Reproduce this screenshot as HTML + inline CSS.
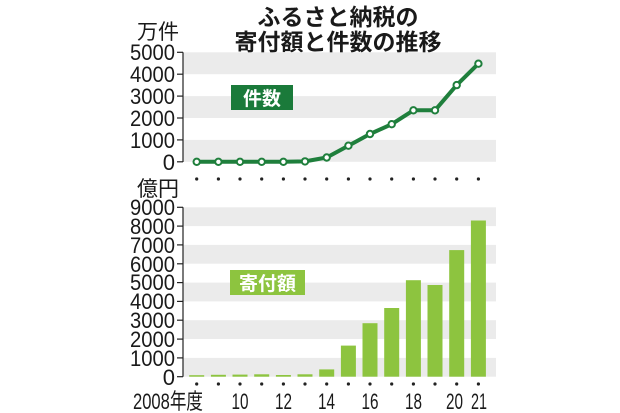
<!DOCTYPE html>
<html><head><meta charset="utf-8"><style>
html,body{margin:0;padding:0;background:#fff;}
svg{display:block;}
text{font-family:"Liberation Sans","Noto Sans CJK JP",sans-serif;fill:#1a1a1a;}
</style></head><body>
<svg width="620" height="413" viewBox="0 0 620 413" xmlns="http://www.w3.org/2000/svg">
<rect width="620" height="413" fill="#fff"/>
<text x="338" y="25" font-size="23" text-anchor="middle" font-weight="bold">ふるさと納税の</text>
<text x="338" y="50" font-size="23" text-anchor="middle" font-weight="bold">寄付額と件数の推移</text>
<text x="137" y="39" font-size="21">万件</text>
<rect x="183" y="52.3" width="313" height="21.9" fill="#ebebeb"/>
<rect x="183" y="96.1" width="313" height="21.9" fill="#ebebeb"/>
<rect x="183" y="139.9" width="313" height="21.9" fill="#ebebeb"/>
<g stroke="#222" stroke-width="1.2">
<line x1="183" y1="52.3" x2="183" y2="162"/>
<line x1="177" y1="52.3" x2="183" y2="52.3"/>
<line x1="177" y1="74.2" x2="183" y2="74.2"/>
<line x1="177" y1="96.1" x2="183" y2="96.1"/>
<line x1="177" y1="118" x2="183" y2="118"/>
<line x1="177" y1="139.9" x2="183" y2="139.9"/>
<line x1="177" y1="161.8" x2="183" y2="161.8"/>
</g>
<g font-size="22" text-anchor="end">
<text x="175" y="60" textLength="45" lengthAdjust="spacingAndGlyphs">5000</text>
<text x="175" y="82" textLength="45" lengthAdjust="spacingAndGlyphs">4000</text>
<text x="175" y="104" textLength="45" lengthAdjust="spacingAndGlyphs">3000</text>
<text x="175" y="126" textLength="45" lengthAdjust="spacingAndGlyphs">2000</text>
<text x="175" y="148" textLength="45" lengthAdjust="spacingAndGlyphs">1000</text>
<text x="175" y="170">0</text>
</g>
<rect x="231" y="85" width="62" height="25" fill="#1a7a3a"/>
<text x="262" y="105" font-size="19" text-anchor="middle" font-weight="bold" style="fill:#fff">件数</text>
<polyline fill="none" stroke="#1f7f3c" stroke-width="4" stroke-linejoin="round"
points="196.7,161.8 218.4,161.8 240,161.8 261.7,161.8 283.4,161.8 305,161.4 326.7,157.5 348.4,145.7 370,134 391.7,124.2 413.4,110.3 435,110.3 456.7,85.1 478.4,63.7"/>
<g fill="#fff" stroke="#1f7f3c" stroke-width="2">
<circle cx="196.7" cy="161.8" r="3.2"/><circle cx="218.4" cy="161.8" r="3.2"/><circle cx="240" cy="161.8" r="3.2"/>
<circle cx="261.7" cy="161.8" r="3.2"/><circle cx="283.4" cy="161.8" r="3.2"/><circle cx="305" cy="161.4" r="3.2"/>
<circle cx="326.7" cy="157.5" r="3.2"/><circle cx="348.4" cy="145.7" r="3.2"/><circle cx="370" cy="134" r="3.2"/>
<circle cx="391.7" cy="124.2" r="3.2"/><circle cx="413.4" cy="110.3" r="3.2"/><circle cx="435" cy="110.3" r="3.2"/>
<circle cx="456.7" cy="85.1" r="3.2"/><circle cx="478.4" cy="63.7" r="3.2"/>
</g>
<g fill="#222">
<circle cx="196.7" cy="179" r="1.6"/><circle cx="218.4" cy="179" r="1.6"/><circle cx="240" cy="179" r="1.6"/>
<circle cx="261.7" cy="179" r="1.6"/><circle cx="283.4" cy="179" r="1.6"/><circle cx="305" cy="179" r="1.6"/>
<circle cx="326.7" cy="179" r="1.6"/><circle cx="348.4" cy="179" r="1.6"/><circle cx="370" cy="179" r="1.6"/>
<circle cx="391.7" cy="179" r="1.6"/><circle cx="413.4" cy="179" r="1.6"/><circle cx="435" cy="179" r="1.6"/>
<circle cx="456.7" cy="179" r="1.6"/><circle cx="478.4" cy="179" r="1.6"/>
<circle cx="196.7" cy="384" r="1.6"/><circle cx="218.4" cy="384" r="1.6"/><circle cx="240" cy="384" r="1.6"/>
<circle cx="261.7" cy="384" r="1.6"/><circle cx="283.4" cy="384" r="1.6"/><circle cx="305" cy="384" r="1.6"/>
<circle cx="326.7" cy="384" r="1.6"/><circle cx="348.4" cy="384" r="1.6"/><circle cx="370" cy="384" r="1.6"/>
<circle cx="391.7" cy="384" r="1.6"/><circle cx="413.4" cy="384" r="1.6"/><circle cx="435" cy="384" r="1.6"/>
<circle cx="456.7" cy="384" r="1.6"/><circle cx="478.4" cy="384" r="1.6"/>
</g>
<text x="137" y="196" font-size="21">億円</text>
<rect x="183" y="207.3" width="313" height="18.8" fill="#ebebeb"/>
<rect x="183" y="244.9" width="313" height="18.8" fill="#ebebeb"/>
<rect x="183" y="282.6" width="313" height="18.8" fill="#ebebeb"/>
<rect x="183" y="320.2" width="313" height="18.8" fill="#ebebeb"/>
<rect x="183" y="357.9" width="313" height="18.8" fill="#ebebeb"/>
<g stroke="#222" stroke-width="1.2">
<line x1="183" y1="207.3" x2="183" y2="376.7"/>
<line x1="177" y1="207.3" x2="183" y2="207.3"/><line x1="177" y1="226.1" x2="183" y2="226.1"/>
<line x1="177" y1="244.9" x2="183" y2="244.9"/><line x1="177" y1="263.8" x2="183" y2="263.8"/>
<line x1="177" y1="282.6" x2="183" y2="282.6"/><line x1="177" y1="301.4" x2="183" y2="301.4"/>
<line x1="177" y1="320.2" x2="183" y2="320.2"/><line x1="177" y1="339.1" x2="183" y2="339.1"/>
<line x1="177" y1="357.9" x2="183" y2="357.9"/><line x1="177" y1="376.7" x2="183" y2="376.7"/>
</g>
<g font-size="22" text-anchor="end">
<text x="175" y="215" textLength="45" lengthAdjust="spacingAndGlyphs">9000</text>
<text x="175" y="234" textLength="45" lengthAdjust="spacingAndGlyphs">8000</text>
<text x="175" y="253" textLength="45" lengthAdjust="spacingAndGlyphs">7000</text>
<text x="175" y="272" textLength="45" lengthAdjust="spacingAndGlyphs">6000</text>
<text x="175" y="290" textLength="45" lengthAdjust="spacingAndGlyphs">5000</text>
<text x="175" y="309" textLength="45" lengthAdjust="spacingAndGlyphs">4000</text>
<text x="175" y="328" textLength="45" lengthAdjust="spacingAndGlyphs">3000</text>
<text x="175" y="347" textLength="45" lengthAdjust="spacingAndGlyphs">2000</text>
<text x="175" y="366" textLength="45" lengthAdjust="spacingAndGlyphs">1000</text>
<text x="175" y="385">0</text>
</g>
<rect x="230" y="270" width="75" height="25" fill="#8dc43f"/>
<text x="267.5" y="290" font-size="19" text-anchor="middle" font-weight="bold" style="fill:#fff">寄付額</text>
<g fill="#8dc43f">
<rect x="189.2" y="375.2" width="15" height="1.5"/>
<rect x="210.9" y="374.8" width="15" height="1.9"/>
<rect x="232.5" y="374.6" width="15" height="2.1"/>
<rect x="254.2" y="374.3" width="15" height="2.4"/>
<rect x="275.9" y="375" width="15" height="1.7"/>
<rect x="297.5" y="374.3" width="15" height="2.4"/>
<rect x="319.2" y="369.4" width="15" height="7.3"/>
<rect x="340.9" y="345.6" width="15" height="31.1"/>
<rect x="362.5" y="323.2" width="15" height="53.5"/>
<rect x="384.2" y="308" width="15" height="68.7"/>
<rect x="405.9" y="280.2" width="15" height="96.5"/>
<rect x="427.5" y="285" width="15" height="91.7"/>
<rect x="449.2" y="250.1" width="15" height="126.6"/>
<rect x="470.9" y="220.5" width="15" height="156.2"/>
</g>
<g font-size="22">
<text x="133" y="409" textLength="70" lengthAdjust="spacingAndGlyphs">2008年度</text>
<text x="231.5" y="409" textLength="17" lengthAdjust="spacingAndGlyphs">10</text>
<text x="275" y="409" textLength="17" lengthAdjust="spacingAndGlyphs">12</text>
<text x="318" y="409" textLength="17" lengthAdjust="spacingAndGlyphs">14</text>
<text x="361.5" y="409" textLength="17" lengthAdjust="spacingAndGlyphs">16</text>
<text x="405" y="409" textLength="17" lengthAdjust="spacingAndGlyphs">18</text>
<text x="446" y="409" textLength="17" lengthAdjust="spacingAndGlyphs">20</text>
<text x="471" y="409" textLength="16" lengthAdjust="spacingAndGlyphs">21</text>
</g>
</svg>
</body></html>
